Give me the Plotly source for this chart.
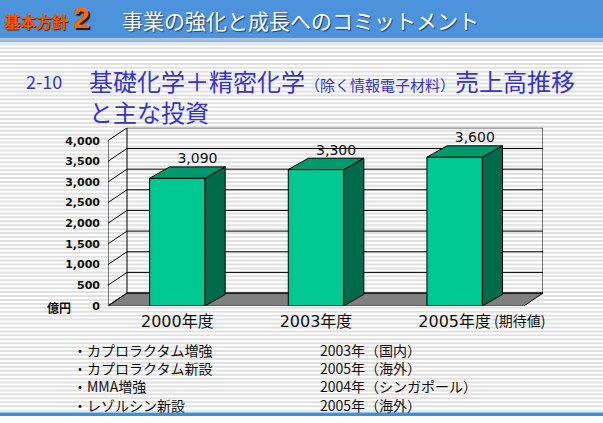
import plotly.graph_objects as go

# data
years = ["2000年度", "2003年度", "2005年度"]
sales = [3090, 3300, 3600]
sales_text = ["3,090", "3,300", "3,600"]
y_ticks = [0, 500, 1000, 1500, 2000, 2500, 3000, 3500, 4000]
y_tick_text = ["0", "500", "1,000", "1,500", "2,000", "2,500", "3,000", "3,500", "4,000"]
invest_items = ["・カプロラクタム増強", "・カプロラクタム新設", "・MMA増強", "・レゾルシン新設"]
invest_when = ["2003年（国内）", "2005年（海外）", "2004年（シンガポール）", "2005年（海外）"]

W, H = 603, 423
JP = "Noto Sans CJK JP"
TITLE_BLUE = "#3535cc"

# fake 3d depth (category units / value units)
DX, DY = 0.137, 310
BDX, BDY = 0.145, 275
HALF = 0.2
X0, X1 = -0.5, 2.5
YMAX = y_ticks[-1]

FRONT = "#00c893"
TOP = "#00996b"
SIDE = "#006a4a"


def fy(py):
    # pixel row -> paper fraction (margins are zero)
    return 1 - py / H


def fx(px):
    return px / W


fig = go.Figure()

# bars: front face
fig.add_trace(go.Bar(x=[0, 1, 2], y=sales, width=2 * HALF,
                     marker=dict(color=FRONT, line=dict(color="black", width=1)),
                     showlegend=False))

# bars: side and top faces
for i, v in enumerate(sales):
    xr = i + HALF
    xl = i - HALF
    fig.add_trace(go.Scatter(
        x=[xr, xr + BDX, xr + BDX, xr, xr], y=[0, BDY, v + BDY, v, 0],
        mode="lines", fill="toself", fillcolor=SIDE,
        line=dict(color="black", width=1), hoverinfo="skip", showlegend=False))
    fig.add_trace(go.Scatter(
        x=[xl, xr, xr + BDX, xl + BDX, xl], y=[v, v, v + BDY, v + BDY, v],
        mode="lines", fill="toself", fillcolor=TOP,
        line=dict(color="black", width=1), hoverinfo="skip", showlegend=False))

# value labels
fig.add_trace(go.Scatter(
    x=[i + BDX for i in range(len(sales))], y=[v + BDY for v in sales],
    mode="text", text=sales_text, textposition="top center",
    textfont=dict(family="DejaVu Sans", size=14, color="#111111"),
    hoverinfo="skip", showlegend=False))

fig.update_xaxes(
    domain=[fx(108), fx(543)], range=[X0, X1 + DX],
    tickvals=[0, 1, 2], ticktext=years, ticklabelstandoff=4,
    tickfont=dict(family="DejaVu Sans, " + JP, size=16, color="#111111"),
    showgrid=False, zeroline=False, showline=False, ticks="")
fig.update_yaxes(
    domain=[fy(311), fy(130)], range=[0, YMAX + DY],
    tickvals=y_ticks, ticktext=y_tick_text, ticklabelstandoff=7,
    tickfont=dict(family="DejaVu Sans", size=11, color="#111111", weight="bold"),
    showgrid=False, zeroline=False, showline=False, ticks="")

shapes = []
# background stripes
for py in range(45, 417, 4):
    shapes.append(dict(type="line", xref="paper", yref="paper", x0=0, x1=1,
                       y0=fy(py), y1=fy(py), line=dict(color="#e0e0e0", width=2),
                       layer="below"))
shapes += [
    dict(type="rect", xref="paper", yref="paper", x0=0, x1=1, y0=fy(39), y1=1,
         fillcolor="#4d93dc", line_width=0, layer="below"),
    dict(type="rect", xref="paper", yref="paper", x0=0, x1=1, y0=fy(41), y1=fy(39),
         fillcolor="#b4bcc6", line_width=0, layer="below"),
    dict(type="rect", xref="paper", yref="paper", x0=0, x1=1, y0=fy(43), y1=fy(41),
         fillcolor="#7fb3e6", line_width=0, layer="below"),
    dict(type="rect", xref="paper", yref="paper", x0=0, x1=1, y0=fy(419), y1=fy(416.5),
         fillcolor="#dcefe9", line_width=0, layer="below"),
    dict(type="rect", xref="paper", yref="paper", x0=0, x1=1, y0=0, y1=fy(419.5),
         fillcolor="#3f8fd9", line_width=0, layer="below"),
]

# chart floor and walls (under the bars)
shapes.append(dict(type="path", xref="x", yref="y", layer="below",
                   path="M{a},0 L{b},0 L{c},{d} L{e},{d} Z".format(
                       a=X0, b=X1, c=X1 + DX, d=DY, e=X0 + DX),
                   fillcolor="#808080", line=dict(color="black", width=1)))
for t in y_ticks:
    shapes.append(dict(type="line", xref="x", yref="y", layer="below",
                       x0=X0 + DX, x1=X1 + DX, y0=t + DY, y1=t + DY,
                       line=dict(color="black", width=1)))
    shapes.append(dict(type="line", xref="x", yref="y", layer="below",
                       x0=X0, x1=X0 + DX, y0=t, y1=t + DY,
                       line=dict(color="black", width=1)))
for xa, xb, ya, yb in [(X0 + DX, X0 + DX, DY, YMAX + DY),
                       (X1 + DX, X1 + DX, DY, YMAX + DY),
                       (X0, X0, 0, YMAX)]:
    shapes.append(dict(type="line", xref="x", yref="y", layer="below",
                       x0=xa, x1=xb, y0=ya, y1=yb, line=dict(color="black", width=1)))

annotations = [
    dict(x=fx(2), y=fy(21), text="基本方針", xanchor="left",
         font=dict(family=JP, size=16, color="#ff5500", weight="bold",
                   shadow="1px 1px 1px #5a2000")),
    dict(x=fx(71), y=fy(18), text="2", xanchor="left",
         font=dict(family="Liberation Sans", size=30, color="#ff6600", weight="bold",
                   shadow="2px 2px 1px #1a1a1a")),
    dict(x=fx(120), y=fy(20), text="事業の強化と成長へのコミットメント", xanchor="left",
         font=dict(family=JP, size=21, color="white", shadow="1px 1px 1px #1d3c66")),
    dict(x=fx(24), y=fy(82), text="2-10", xanchor="left",
         font=dict(family=JP, size=18, color=TITLE_BLUE)),
    dict(x=fx(87), y=fy(98), xanchor="left", align="left",
         text="基礎化学＋精密化学<span style='font-size:15px'>（除く情報電子材料）</span>売上高推移"
              "<br>と主な投資",
         font=dict(family=JP, size=24, color=TITLE_BLUE)),
    dict(x=X0, y=0, xref="x", yref="y", text="億円", xanchor="right", xshift=-35, yshift=-2,
         font=dict(family=JP, size=12, color="#111111", weight="bold")),
    dict(x=2, y=0, xref="x", yref="y", text="(期待値)", xanchor="left", xshift=37, yshift=-14,
         font=dict(family=JP, size=14, color="#111111")),
    dict(x=fx(71), y=fy(384), text="<br>".join(invest_items), xanchor="left", align="left",
         font=dict(family=JP, size=14, color="#111111")),
    dict(x=fx(318), y=fy(384), text="<br>".join(invest_when), xanchor="left", align="left",
         font=dict(family=JP, size=14, color="#111111")),
]
for a in annotations:
    a.setdefault("xref", "paper")
    a.setdefault("yref", "paper")
    a.setdefault("yanchor", "middle")
    a["showarrow"] = False

fig.update_layout(
    width=W, height=H, margin=dict(l=0, r=0, t=0, b=0),
    paper_bgcolor="white", plot_bgcolor="rgba(0,0,0,0)",
    shapes=shapes, annotations=annotations, showlegend=False,
    hovermode=False,
)

fig.write_html("out.html", config={"displayModeBar": False},
               post_script="document.body.style.margin='0';")
